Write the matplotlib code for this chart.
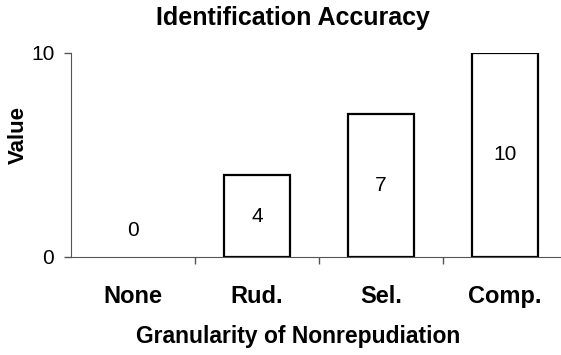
import numpy as np
import matplotlib.pyplot as plt

categories = ["None", "Rud.", "Sel.", "Comp."]
values = [0, 4, 7, 10]
yticks = [0, 10]

plt.rcParams['font.family'] = ['Liberation Sans', 'DejaVu Sans']

fig = plt.figure(figsize=(5.61, 3.55), dpi=100)
ax = fig.add_axes([71 / 561, 98 / 355, 496 / 561, 204 / 355])

x = np.arange(len(categories))
# zero-height bars get no outline so they don't show up as a dark stub on the axis
edges = ['black' if v > 0 else 'none' for v in values]
ax.bar(x, values, width=0.54, facecolor='white', edgecolor=edges, linewidth=1.6)

# value labels sit in the middle of each bar; an empty bar gets its label just above the axis
for xi, v in zip(x, values):
    ypos = v / 2 if v > 0 else 1.3
    ax.text(xi, ypos, str(v), ha='center', va='center', fontsize=15)

ax.set_xlim(-0.5, len(categories) - 0.5)
ax.set_ylim(0, 10)
ax.set_yticks(yticks)
ax.set_yticklabels([str(t) for t in yticks], fontsize=15)
ax.tick_params(axis='y', length=5, width=1, color='#555555', pad=7)

ax.set_xticks(x)
ax.set_xticklabels(categories, fontsize=17, fontweight='bold')
ax.set_xticks(x[:-1] + 0.5, minor=True)
ax.tick_params(axis='x', which='major', length=0, pad=20)
ax.tick_params(axis='x', which='minor', length=5, width=1, color='#555555')

for side in ['top', 'right']:
    ax.spines[side].set_visible(False)
ax.spines['left'].set_color('#555555')
ax.spines['bottom'].set_color('#555555')

ax.set_ylabel("Value", fontsize=16, fontweight='bold')
ax.yaxis.set_label_coords(-53 / 496, 0.6)
ax.set_xlabel("Granularity of Nonrepudiation", fontsize=16.5, fontweight='bold')
ax.xaxis.set_label_coords((298 - 71) / 496, -(336 - 257) / 204)
ax.xaxis.label.set_va('center')
ax.yaxis.label.set_va('center')
fig.text(293 / 561, 1 - 18 / 355, "Identification Accuracy", ha='center', va='center',
         fontsize=18, fontweight='bold')

fig.savefig("out.png", dpi=100)
